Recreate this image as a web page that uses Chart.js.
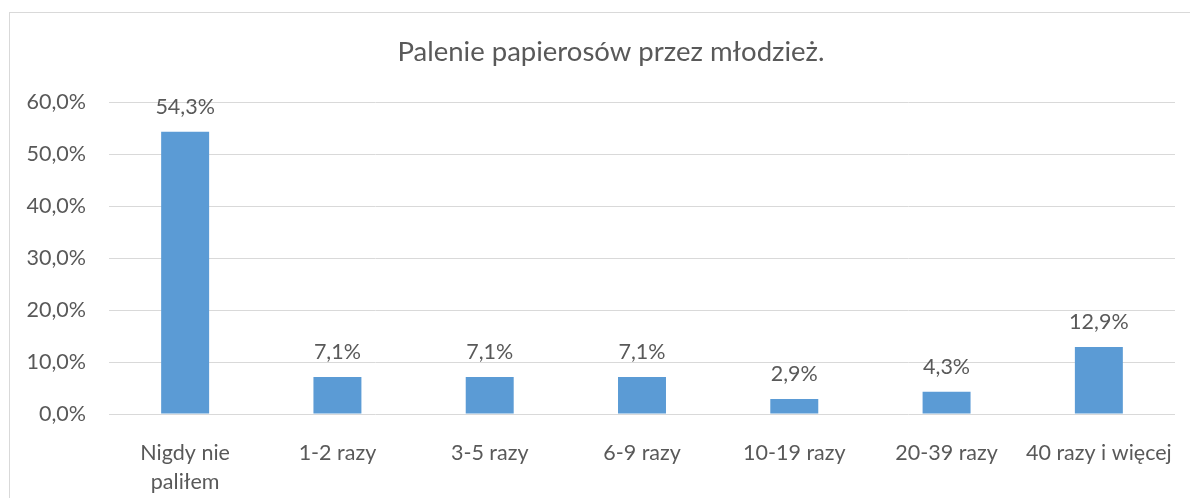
<!DOCTYPE html>
<html>
<head>
<meta charset="utf-8">
<script src="https://cdn.jsdelivr.net/npm/chart.js@4/dist/chart.umd.min.js"></script>
<style>
html,body{margin:0;padding:0;background:#fff;overflow:hidden;}
#frame{position:absolute;left:9px;top:12px;width:1300px;height:600px;border:1px solid #d9d9d9;box-sizing:border-box;}
#wrap{position:absolute;left:0;top:0;width:1190px;height:498px;}
</style>
</head>
<body>
<div id="frame"></div>
<div id="wrap"><canvas id="c"></canvas></div>
<script>
const titleText = 'Palenie papierosów przez młodzież.';
const categories = [['Nigdy nie','paliłem'], '1-2 razy', '3-5 razy', '6-9 razy', '10-19 razy', '20-39 razy', '40 razy i więcej'];
const values = [54.3, 7.1, 7.1, 7.1, 2.9, 4.3, 12.9];
const yMin = 0, yMax = 60, yStep = 10;

const FONT = 'Lato, "Open Sans", sans-serif';
const TEXT = '#595959';
const fmt = v => v.toFixed(1).replace('.', ',') + '%';

const labelPlugin = {
  id: 'barLabels',
  afterDatasetsDraw(chart) {
    const ctx = chart.ctx;
    const meta = chart.getDatasetMeta(0);
    ctx.save();
    ctx.font = '21.5px ' + FONT;
    ctx.fillStyle = TEXT;
    ctx.textAlign = 'center';
    ctx.textBaseline = 'middle';
    meta.data.forEach((bar, i) => {
      ctx.fillText(fmt(values[i]), bar.x, bar.y - 25);
    });
    // chart title
    ctx.font = '27.5px ' + FONT;
    ctx.textBaseline = 'alphabetic';
    ctx.fillText(titleText, 611, 61);
    ctx.restore();
  }
};

new Chart(document.getElementById('c'), {
  type: 'bar',
  data: {
    labels: categories,
    datasets: [{
      data: values,
      backgroundColor: '#5B9BD5',
      borderWidth: 0,
      categoryPercentage: 1,
      barPercentage: 0.315
    }]
  },
  options: {
    responsive: true,
    maintainAspectRatio: false,
    animation: false,
    layout: { padding: { top: 102, left: 0, right: 15, bottom: 0 } },
    plugins: {
      legend: { display: false },
      tooltip: { enabled: false },
      title: { display: false }
    },
    scales: {
      x: {
        grid: { display: false },
        border: { display: false },
        ticks: {
          color: TEXT,
          font: { family: FONT, size: 21.5, lineHeight: 1.35 },
          padding: 17,
          maxRotation: 0,
          autoSkip: false
        },
        afterFit(scale) { scale.height = 84; }
      },
      y: {
        min: yMin, max: yMax,
        grid: { color: '#d9d9d9', lineWidth: 1, drawTicks: false },
        border: { display: false },
        ticks: {
          stepSize: yStep,
          color: TEXT,
          padding: 23,
          font: { family: FONT, size: 21.5 },
          callback: v => fmt(v)
        },
        afterFit(scale) { scale.width = 109; }
      }
    }
  },
  plugins: [labelPlugin]
});
</script>
</body>
</html>
